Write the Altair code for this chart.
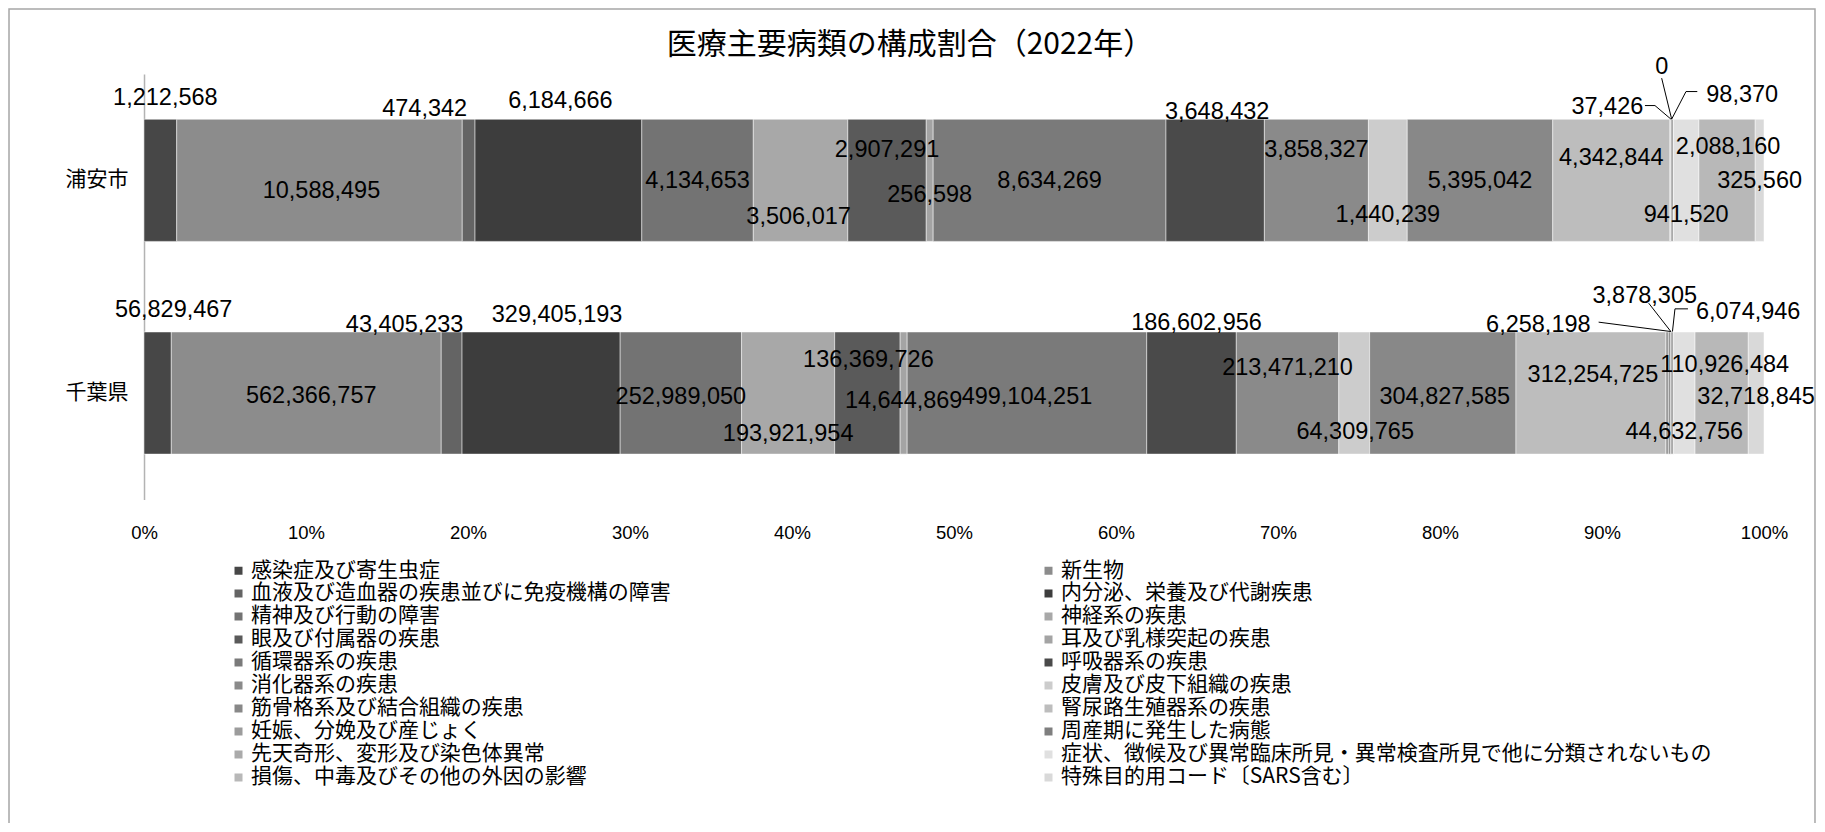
import altair as alt
import pandas as pd

# ---------------- data ----------------
REGIONS = ["浦安市", "千葉県"]
CATEGORIES = [
    "感染症及び寄生虫症", "新生物",
    "血液及び造血器の疾患並びに免疫機構の障害", "内分泌、栄養及び代謝疾患",
    "精神及び行動の障害", "神経系の疾患",
    "眼及び付属器の疾患", "耳及び乳様突起の疾患",
    "循環器系の疾患", "呼吸器系の疾患",
    "消化器系の疾患", "皮膚及び皮下組織の疾患",
    "筋骨格系及び結合組織の疾患", "腎尿路生殖器系の疾患",
    "妊娠、分娩及び産じょく", "周産期に発生した病態",
    "先天奇形、変形及び染色体異常", "症状、徴候及び異常臨床所見・異常検査所見で他に分類されないもの",
    "損傷、中毒及びその他の外因の影響", "特殊目的用コード〔SARS含む〕",
]
URAYASU = [1212568, 10588495, 474342, 6184666, 4134653, 3506017, 2907291, 256598,
           8634269, 3648432, 3858327, 1440239, 5395042, 4342844, 37426, 0,
           98370, 941520, 2088160, 325560]
CHIBA = [56829467, 562366757, 43405233, 329405193, 252989050, 193921954, 136369726, 14644869,
         499104251, 186602956, 213471210, 64309765, 304827585, 312254725, 6258198, 3878305,
         6074946, 44632756, 110926484, 32718845]
TITLE = "医療主要病類の構成割合（2022年）"

# ---------------- styling ----------------
COLORS = ["#474747", "#8c8c8c", "#646464", "#3d3d3d", "#737373", "#a8a8a8", "#5a5a5a", "#a4a4a4",
          "#7a7a7a", "#4a4a4a", "#8a8a8a", "#cccccc", "#888888", "#bdbdbd", "#9c9c9c", "#7f7f7f",
          "#aaaaaa", "#e0e0e0", "#b8b8b8", "#d9d9d9"]
# data-label placement: pixel nudges from each segment's centre (as hand-placed in the original)
URAYASU_DX = [5, 2, -44, 2, 0, -2, 0, 0, 0, 2, 0, 0, 0, 0, -63, -9, 70, 0, 1, 0]
URAYASU_DY = [-82, 11, -71.5, -79, 1, 36.5, -30, 15, 1, -68.5, -30, 35, 1, -22, -73, -113, -85.5, 35, -33, 1]
CHIBA_DX = [16, 5, -47, 16, 0, 0, 1, 0, 0, 5, 0, 1, 2, 2, -129, -25, 76, 0, 3, 0]
CHIBA_DY = [-83, 3, -68.5, -78.5, 4, 40.5, -33, 7.5, 3.5, -70, -25, 38.5, 3.5, -18, -68, -97, -81.5, 38.5, -28, 3.5]
# leader lines: (region index, segment index, [(dx, dy), ...]) pixel nudges from segment centre
LEADERS = [
    (0, 14, [(-25.4, -74.8), (-15.4, -74.8), (0.6, -61.2)]),
    (0, 15, [(-9.2, -102.2), (0.8, -61.2)]),
    (0, 16, [(25.1, -88.8), (13.8, -88.8), (-0.5, -61.2)]),
    (1, 14, [(-68.7, -70.9), (3.6, -61.5)]),
    (1, 15, [(-21.1, -89.9), (1.1, -61.5)]),
    (1, 16, [(15.8, -84.2), (2.8, -84.2), (0.3, -61.5)]),
]

PLOT_W = 1620
STEP = 212.7
PAD_INNER = 0.426
PLOT_H = 2 * STEP
HALF_BAND = STEP * (1 - PAD_INNER) / 2
JP = "Noto Sans CJK JP"
NUM = "Liberation Sans"

rows = []
for region, vals, ddx, ddy in [(REGIONS[0], URAYASU, URAYASU_DX, URAYASU_DY),
                               (REGIONS[1], CHIBA, CHIBA_DX, CHIBA_DY)]:
    for i, (cat, v) in enumerate(zip(CATEGORIES, vals)):
        rows.append(dict(region=region, category=cat, idx=i, value=v, dx=ddx[i], dy=ddy[i]))
df = pd.DataFrame(rows)

lrows = []
for lid, (ri, seg, pts) in enumerate(LEADERS):
    vals = URAYASU if ri == 0 else CHIBA
    total = float(sum(vals))
    mid = (sum(vals[:seg]) + vals[seg] / 2.0) / total
    for k, (px, py) in enumerate(pts):
        lrows.append(dict(lid=lid, pt=k, region=REGIONS[ri], mid=mid, ldx=px, ldy=py))
ldf = pd.DataFrame(lrows)

y_enc = alt.Y(
    "region:N",
    scale=alt.Scale(domain=REGIONS, paddingInner=PAD_INNER, paddingOuter=PAD_INNER / 2),
    title=None,
    axis=alt.Axis(labelFont=JP, labelFontSize=21, labelColor="black", ticks=False,
                  labelPadding=16, domainColor="#b3b3b3", domainWidth=1.5, grid=False),
)
x_scale = alt.Scale(domain=[0, 1], nice=False, zero=True)

bars = alt.Chart(df).mark_bar(stroke="white", strokeWidth=0.8, strokeOpacity=0.6).encode(
    x=alt.X("value:Q", stack="normalize", scale=x_scale, title=None,
            axis=alt.Axis(format=".0%", values=[i / 10 for i in range(11)], labelFont=NUM,
                          labelFontSize=18.5, labelColor="black", ticks=False, domain=False,
                          grid=False, labelPadding=24, labelFlush=False)),
    y=y_enc,
    color=alt.Color("category:N", scale=alt.Scale(domain=CATEGORIES, range=COLORS),
                    legend=alt.Legend(title=None, orient="none", legendX=84, legendY=486,
                                      direction="horizontal", columns=2, columnPadding=367,
                                      rowPadding=1.0, symbolType="square", symbolSize=64,
                                      symbolStrokeWidth=0, labelFont=JP, labelFontSize=21,
                                      labelColor="black", labelLimit=900, labelOffset=2,
                                      padding=0)),
    order=alt.Order("idx:Q"),
)

labels = alt.Chart(df).transform_stack(
    stack="value", groupby=["region"], as_=["s0", "s1"],
    sort=[alt.SortField("idx")], offset="normalize",
).transform_calculate(
    lx=f"(datum.s0 + datum.s1) / 2 + datum.dx / {PLOT_W}",
    ly=f"datum.dy + {HALF_BAND}",
).mark_text(font=NUM, fontSize=23.5, color="black", baseline="middle", align="center").encode(
    x=alt.X("lx:Q", scale=x_scale),
    y=alt.Y("region:N"),
    yOffset=alt.YOffset("ly:Q", scale=None),
    text=alt.Text("value:Q", format=","),
)

leaders = alt.Chart(ldf).transform_calculate(
    lx=f"datum.mid + datum.ldx / {PLOT_W}",
    ly=f"datum.ldy + {HALF_BAND}",
).mark_line(color="black", strokeWidth=1).encode(
    x=alt.X("lx:Q", scale=x_scale),
    y=alt.Y("region:N"),
    yOffset=alt.YOffset("ly:Q", scale=None),
    detail="lid:N",
    order="pt:Q",
)

frame = alt.Chart(pd.DataFrame({"k": [0]})).mark_rect(
    fillOpacity=0, stroke="#a6a6a6", strokeWidth=1.5
).encode(x=alt.value(-135), x2=alt.value(1671), y=alt.value(-65), y2=alt.value(790))

chart = alt.layer(frame, bars, leaders, labels).properties(
    width=PLOT_W,
    height=PLOT_H,
    padding={"left": 136, "top": 66, "right": 53, "bottom": 324},
    autosize=alt.AutoSizeParams(type="none"),
    background="white",
    title=alt.TitleParams(text=TITLE, font=JP, fontSize=30, fontWeight="normal", color="black",
                          anchor="middle", dx=-44, offset=-52),
).configure_view(stroke=None)

chart.save("out.html", embed_options={"renderer": "svg", "actions": False})
